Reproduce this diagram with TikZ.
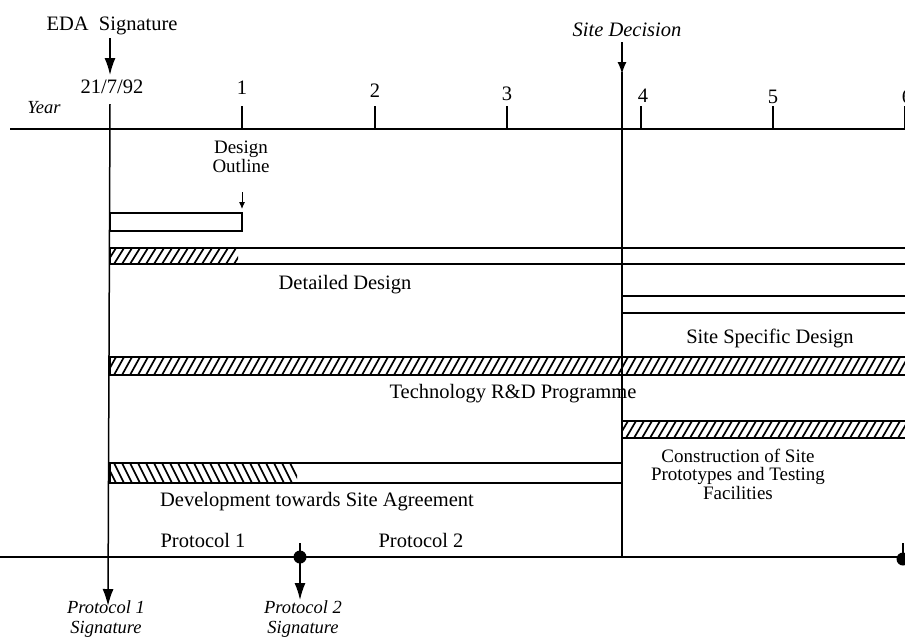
\documentclass[tikz,border=0pt]{standalone}
\usepackage{fontspec}
\setmainfont{Liberation Serif}
\usetikzlibrary{arrows.meta}
\tikzset{
  lab/.style={inner sep=0pt, font=\fontsize{20.5}{19}\selectfont, align=center},
  smalllab/.style={inner sep=0pt, font=\fontsize{19}{18.5}\selectfont, align=center},
  ilab/.style={inner sep=0pt, font=\fontsize{18.5}{20}\selectfont\itshape, align=center},
  axisline/.style={line width=1.5pt},
  barline/.style={line width=1.4pt},
  hatchline/.style={line width=1.7pt},
  tickline/.style={line width=1.4pt},
  bigarrow/.style={line width=1.5pt, -{Latex[length=17pt,width=11pt]}},
  smallarrow/.style={line width=1pt, -{Latex[length=7pt,width=6pt]}},
}
\newcommand{\hatchNE}[4]{\begin{scope}\clip (#1,#2) rectangle (#3,#4);
  \foreach \k in {-20,-12,...,800}{\draw[hatchline] ({#1+\k},#4) -- ({#1+\k+10},#2);}\end{scope}}
\newcommand{\hatchNW}[4]{\begin{scope}\clip (#1,#2) rectangle (#3,#4);
  \foreach \k in {-20,-12,...,800}{\draw[hatchline] ({#1+\k},#2) -- ({#1+\k+10},#4);}\end{scope}}
\begin{document}
\begin{tikzpicture}[x=1pt,y=-1pt]
\useasboundingbox (0,0) rectangle (905,641);
% ---- year axis
\coordinate (axL) at (10,129);
\coordinate (axR) at (905,129);
\draw[axisline] (axL) -- (axR);
\node[ilab] (year) at (44,108) {Year};
% ticks
\foreach \n/\x in {t1/242, t2/375, t3/507, t4/641, t5/773, t6/905}{
  \coordinate (\n) at (\x,129);
  \draw[tickline] (\x,106) -- (\n);
}
\node[lab] (l1) at (242,88) {1};
\node[lab] (l2) at (375,91) {2};
\node[lab] (l3) at (507,94) {3};
\node[lab] (l4) at (643,96) {4};
\node[lab] (l5) at (773,97) {5};
\node[lab] (l6) at (907,97) {6};
\node[lab] (l0) at (112,87) {21/7/92};
% EDA signature
\node[lab] (eda) at (112,26) {EDA\ \ Signature};
\coordinate (edaA) at (110,38);
\coordinate (edaB) at (110,75);
\draw[bigarrow] (edaA) -- (edaB);
% left vertical (Protocol 1 signature)
\coordinate (v0top) at (110,104);
\coordinate (v0bot) at (108,606);
\draw[bigarrow] (v0top) -- (v0bot);
\node[ilab] (p1sig) at (106,619) {Protocol 1\\Signature};
% Site decision
\node[ilab, font=\fontsize{20.5}{20}\selectfont\itshape] (sited) at (627,30) {Site Decision};
\coordinate (sdA) at (622,42);
\coordinate (sdB) at (622,74);
\draw[line width=1.5pt, -{Latex[length=12pt,width=9pt]}] (sdA) -- (sdB);
\coordinate (sdtop) at (622,72);
\coordinate (sdbot) at (622,557);
\draw[axisline] (sdtop) -- (sdbot);
% Design outline
\node[smalllab] (dout) at (241,157) {Design\\Outline};
\coordinate (doA) at (242,192);
\coordinate (doB) at (242,209);
\draw[smallarrow] (doA) -- (doB);
\draw[barline] (110,213) rectangle (242,231);
% Detailed design bar
\hatchNE{110}{248}{238}{264}
\draw[barline] (905,248) -- (110,248) -- (110,264) -- (905,264);
\node[lab] (ddes) at (345,285) {Detailed Design};
% Site specific design
\draw[barline] (905,296) -- (622,296) -- (622,313) -- (905,313);
\node[lab] (ssd) at (770,338) {Site Specific Design};
% Technology R&D
\hatchNE{110}{357}{905}{375}
\draw[barline] (905,357) -- (110,357) -- (110,375) -- (905,375);
\node[lab] (tech) at (513,394) {Technology R\&D Programme};
% Construction
\hatchNE{622}{421}{905}{438}
\draw[barline] (905,421) -- (622,421) -- (622,438) -- (905,438);
\node[smalllab] (cons) at (738,474) {Construction of Site\\Prototypes and Testing\\Facilities};
% Development towards site agreement
\hatchNW{110}{463}{297}{483}
\draw[barline] (110,463) rectangle (622,483);
\node[lab] (dev) at (317,502) {Development towards Site Agreement};
\node[lab] (pr1) at (203,540) {Protocol 1};
\node[lab] (pr2) at (421,540) {Protocol 2};
% bottom line
\coordinate (blL) at (0,557);
\coordinate (blR) at (905,557);
\draw[axisline] (blL) -- (blR);
% protocol 2 signature
\node[circle, fill=black, inner sep=0pt, minimum size=13pt] (dot2) at (300,557) {};
\draw[tickline] (300,543) -- (dot2.center);
\coordinate (p2B) at (300,600);
\draw[bigarrow] (dot2.center) -- (p2B);
\node[ilab] (p2sig) at (303,619) {Protocol 2\\Signature};
% right dot
\node[circle, fill=black, inner sep=0pt, minimum size=13pt] (dot3) at (903,559) {};
\draw[tickline] (903,543) -- (dot3.center);
\end{tikzpicture}
\end{document}
